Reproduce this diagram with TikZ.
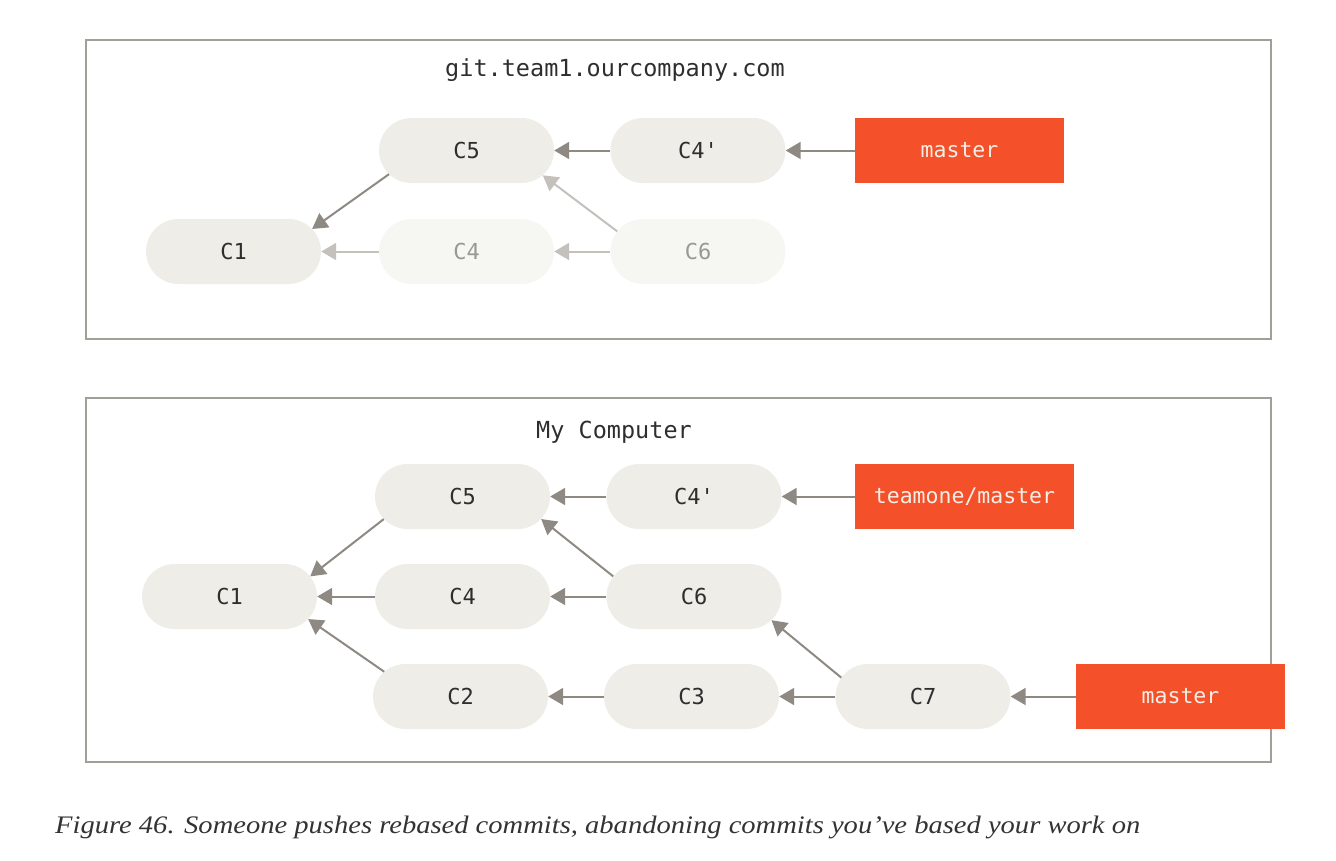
\documentclass[tikz,border=0pt]{standalone}
\usepackage{fontspec}
\setmainfont{Liberation Serif}
\newfontfamily\codefont{DejaVu Sans Mono}
\usetikzlibrary{shapes.misc,arrows.meta}

\definecolor{commitfill}{HTML}{EEEDE7}
\definecolor{fadefill}{HTML}{F6F6F2}
\definecolor{committext}{HTML}{2E2E2E}
\definecolor{fadetext}{HTML}{9A9894}
\definecolor{arrowgray}{HTML}{8E8982}
\definecolor{fadearrow}{HTML}{C4C1BC}
\definecolor{branchred}{HTML}{F4502A}
\definecolor{branchtext}{HTML}{F3EEE6}
\definecolor{framegray}{HTML}{A29E98}
\definecolor{captiontext}{HTML}{333333}

\begin{document}
\begin{tikzpicture}[x=1pt,y=-1pt,
  commit/.style={rounded rectangle, fill=commitfill, minimum width=175pt, minimum height=65pt, inner sep=0pt,
    font=\codefont\fontsize{22}{26}\selectfont, text=committext},
  fadecommit/.style={commit, fill=fadefill, text=fadetext},
  branch/.style={rectangle, fill=branchred, minimum height=65pt, inner sep=0pt, text=branchtext,
    font=\codefont\fontsize{21.5}{26}\selectfont},
  frame/.style={rectangle, draw=framegray, line width=2pt, inner sep=0pt},
  boxtitle/.style={font=\codefont\fontsize{23.5}{28}\selectfont, text=committext, inner sep=0pt},
  arr/.style={draw=arrowgray, line width=2pt, -{Triangle[length=15pt,width=17pt]}},
  fadearr/.style={arr, draw=fadearrow}
]
\useasboundingbox (0,0) rectangle (1336,860);

% frames
\node[frame, minimum width=1185pt, minimum height=299pt] (topframe) at (678.5,189.5) {};
\node[frame, minimum width=1185pt, minimum height=364pt] (botframe) at (678.5,580) {};

% top: server
\node[boxtitle] (t1) at (615,70) {git.team1.ourcompany.com};
\node[commit] (tC5) at (466.5,150.5) {C5};
\node[commit] (tC4p) at (698,150.5) {C4'};
\node[branch, minimum width=209pt] (tmaster) at (959.5,150.5) {master};
\node[commit] (tC1) at (233.5,251.5) {C1};
\node[fadecommit] (tC4) at (466.5,251.5) {C4};
\node[fadecommit] (tC6) at (698,251.5) {C6};

\draw[arr] (tmaster.west) -- (tC4p.east);
\draw[arr] (tC4p.west) -- (tC5.east);
\draw[arr] (tC5.197) -- (tC1.16);
\draw[fadearr] (tC4.west) -- (tC1.east);
\draw[fadearr] (tC6.west) -- (tC4.east);
\draw[fadearr] (tC6.166) -- (tC5.342);

% bottom: my computer
\node[boxtitle] (t2) at (614,432) {My Computer};
\node[commit] (bC5) at (462.5,496.5) {C5};
\node[commit] (bC4p) at (694,496.5) {C4'};
\node[branch, minimum width=219pt] (bteam) at (964.5,496.5) {teamone/master};
\node[commit] (bC1) at (229.5,596.5) {C1};
\node[commit] (bC4) at (462.5,596.5) {C4};
\node[commit] (bC6) at (694,596.5) {C6};
\node[commit] (bC2) at (460.5,696.5) {C2};
\node[commit] (bC3) at (691.5,696.5) {C3};
\node[commit] (bC7) at (923,696.5) {C7};
\node[branch, minimum width=209pt] (bmaster) at (1180.5,696.5) {master};

\draw[arr] (bteam.west) -- (bC4p.east);
\draw[arr] (bC4p.west) -- (bC5.east);
\draw[arr] (bC5.196) -- (bC1.14);
\draw[arr] (bC4.west) -- (bC1.east);
\draw[arr] (bC2.162) -- (bC1.344);
\draw[arr] (bC6.west) -- (bC4.east);
\draw[arr] (bC6.166) -- (bC5.344);
\draw[arr] (bC3.west) -- (bC2.east);
\draw[arr] (bC7.west) -- (bC3.east);
\draw[arr] (bC7.167) -- (bC6.343);
\draw[arr] (bmaster.west) -- (bC7.east);

% caption
\node[anchor=base west, inner sep=0pt, text=captiontext] (caption) at (55,833)
  {\resizebox{1085pt}{17.5pt}{\itshape Figure 46. Someone pushes rebased commits, abandoning commits you’ve based your work on}};
\end{tikzpicture}
\end{document}
